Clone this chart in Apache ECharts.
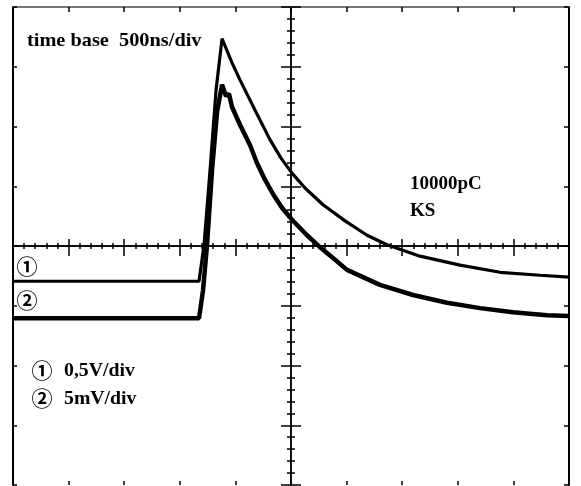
<!DOCTYPE html>
<html>
<head>
<meta charset="utf-8">
<script src="https://cdn.jsdelivr.net/npm/echarts@6/dist/echarts.min.js"></script>
<style>
  html, body { margin: 0; padding: 0; background: #fff; }
  #main { width: 581px; height: 486px; }
</style>
</head>
<body>
<div id="main"></div>
<script>
// time in ns (500 ns/div, 10 div), amplitude in screen divisions (8 div)
const ch1Time = [-2500, -827, -782, -728, -674, -620, -531, -459, -306, -189, -90, 9, 126, 288, 486, 684, 863, 1160, 1520, 1880, 2239, 2500];
const ch1Div  = [-0.59, -0.59, 0.02, 1.27, 2.61, 3.47, 3.07, 2.78, 2.21, 1.78, 1.47, 1.22, 0.97, 0.69, 0.42, 0.18, 0.02, -0.17, -0.32, -0.44, -0.49, -0.52];

const ch2Time = [-2500, -827, -791, -755, -710, -665, -620, -585, -558, -531, -459, -369, -306, -234, -162, -81, 9, 144, 261, 378, 504, 800, 1097, 1403, 1700, 1996, 2302, 2500];
const ch2Div  = [-1.21, -1.21, -0.74, 0.02, 1.27, 2.24, 2.70, 2.51, 2.55, 2.33, 2.03, 1.69, 1.39, 1.11, 0.87, 0.64, 0.44, 0.18, -0.02, -0.20, -0.40, -0.65, -0.82, -0.95, -1.04, -1.11, -1.16, -1.17];

const xMin = -2500, xMax = 2500, xStep = 500;
const yMin = -4, yMax = 4, yStep = 1;

const textFont = 'bold 19px "Liberation Serif", "Times New Roman", serif';
const circleFont = 'bold 21px "Noto Sans CJK SC", sans-serif';

function pairs(xs, ys) {
  return xs.map((x, i) => [x, ys[i]]);
}

// frame / graticule axis
function xAx(extra) {
  return Object.assign({
    type: 'value', min: xMin, max: xMax, interval: xStep,
    axisLabel: { show: false }, splitLine: { show: false }
  }, extra);
}
function yAx(extra) {
  return Object.assign({
    type: 'value', min: yMin, max: yMax, interval: yStep,
    axisLabel: { show: false }, splitLine: { show: false }
  }, extra);
}

const chart = echarts.init(document.getElementById('main'));

const option = {
  animation: false,
  backgroundColor: '#fff',
  grid: { left: 13, top: 7, width: 556, height: 478, containLabel: false },
  xAxis: [
    // bottom border (line itself falls off the photo, only ticks show)
    xAx({ position: 'bottom', axisLine: { show: false, onZero: false },
          axisTick: { show: true, inside: true, length: 4, lineStyle: { color: '#000', width: 1.5 } } }),
    // top border
    xAx({ position: 'top', axisLine: { onZero: false, lineStyle: { color: '#777', width: 2 } },
          axisTick: { inside: true, length: 5, lineStyle: { color: '#000', width: 1.5 } } }),
    // centre line, ticks up
    xAx({ position: 'bottom', axisLine: { onZero: true, onZeroAxisIndex: 0, lineStyle: { color: '#000', width: 1.5 } },
          axisTick: { inside: true, length: 7, lineStyle: { color: '#000', width: 1.5 } },
          minorTick: { show: true, splitNumber: 5, length: 3, lineStyle: { color: '#000', width: 1.5 } } }),
    // centre line, ticks down
    xAx({ position: 'bottom', axisLine: { onZero: true, onZeroAxisIndex: 0, lineStyle: { color: '#000', width: 1.5 } },
          axisTick: { inside: false, length: 10, lineStyle: { color: '#000', width: 1.5 } },
          minorTick: { show: true, splitNumber: 5, length: 3, lineStyle: { color: '#000', width: 1.5 } } })
  ],
  yAxis: [
    // left border
    yAx({ position: 'left', axisLine: { show: true, onZero: false, lineStyle: { color: '#000', width: 2 } },
          axisTick: { show: true, inside: true, length: 4, lineStyle: { color: '#000', width: 1.5 } } }),
    // right border
    yAx({ position: 'right', axisLine: { show: true, onZero: false, lineStyle: { color: '#000', width: 2 } },
          axisTick: { show: true, inside: true, length: 5, lineStyle: { color: '#000', width: 1.5 } } }),
    // centre line, ticks right
    yAx({ position: 'left', axisLine: { show: true, onZero: true, onZeroAxisIndex: 0, lineStyle: { color: '#000', width: 1.5 } },
          axisTick: { show: true, inside: true, length: 10, lineStyle: { color: '#000', width: 1.5 } },
          minorTick: { show: true, splitNumber: 5, length: 4, lineStyle: { color: '#000', width: 1.5 } } }),
    // centre line, ticks left
    yAx({ position: 'left', axisLine: { show: true, onZero: true, onZeroAxisIndex: 0, lineStyle: { color: '#000', width: 1.5 } },
          axisTick: { show: true, inside: false, length: 10, lineStyle: { color: '#000', width: 1.5 } },
          minorTick: { show: true, splitNumber: 5, length: 4, lineStyle: { color: '#000', width: 1.5 } } })
  ],
  series: [
    {
      name: 'ch1', type: 'line', xAxisIndex: 0, yAxisIndex: 0,
      data: pairs(ch1Time, ch1Div),
      showSymbol: false,
      lineStyle: { color: '#000', width: 3.2 }, z: 5
    },
    {
      name: 'ch2', type: 'line', xAxisIndex: 0, yAxisIndex: 0,
      data: pairs(ch2Time, ch2Div),
      showSymbol: false,
      lineStyle: { color: '#000', width: 4.5 }, z: 5
    }
  ],
  graphic: [
    { type: 'text', x: 27, y: 32, scaleX: 1.07, style: { text: 'time base  500ns/div', font: textFont, fill: '#000', verticalAlign: 'top' } },
    { type: 'text', x: 410, y: 175, style: { text: '10000pC', font: textFont, fill: '#000', verticalAlign: 'top' } },
    { type: 'text', x: 410, y: 202, style: { text: 'KS', font: textFont, fill: '#000', verticalAlign: 'top' } },
    { type: 'text', x: 27, y: 266, style: { text: '①', font: circleFont, fill: '#000', align: 'center', verticalAlign: 'middle' } },
    { type: 'text', x: 27, y: 300, style: { text: '②', font: circleFont, fill: '#000', align: 'center', verticalAlign: 'middle' } },
    { type: 'text', x: 42, y: 370, style: { text: '①', font: circleFont, fill: '#000', align: 'center', verticalAlign: 'middle' } },
    { type: 'text', x: 42, y: 398, style: { text: '②', font: circleFont, fill: '#000', align: 'center', verticalAlign: 'middle' } },
    { type: 'text', x: 64, y: 371, scaleX: 1.04, style: { text: '0,5V/div', font: textFont, fill: '#000', verticalAlign: 'middle' } },
    { type: 'text', x: 64, y: 399, scaleX: 1.04, style: { text: '5mV/div', font: textFont, fill: '#000', verticalAlign: 'middle' } }
  ]
};

chart.setOption(option);
</script>
</body>
</html>
